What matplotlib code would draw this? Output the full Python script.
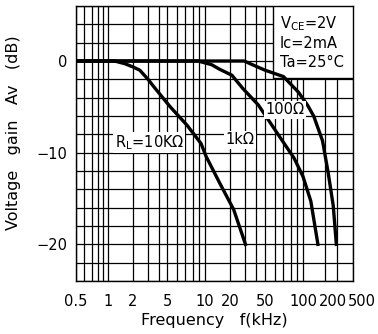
import numpy as np
import matplotlib
matplotlib.use("Agg")
import matplotlib.pyplot as plt
from matplotlib.patches import Rectangle
import matplotlib.transforms as mtrans

plt.rcParams['font.family'] = ['DejaVu Sans']

# ---- data ----
f_10k = [0.5, 1.2, 1.6, 2.0, 2.4, 3.0, 3.5, 5.3, 7.2, 9.3, 10.3, 15, 22, 30]
db_10k = [0, 0, -0.3, -0.65, -1.0, -2.0, -2.8, -5.0, -7.0, -9.0, -10.4, -13.3, -16.2, -20]

f_1k = [0.5, 8.8, 12, 15, 21, 28, 42, 62, 85, 100, 128, 160]
db_1k = [0, 0, -0.4, -0.9, -1.55, -3.0, -4.8, -7.8, -10.6, -12.6, -15.3, -20]

f_100 = [0.5, 29, 40, 50, 70, 92, 115, 140, 185, 222, 262, 290]
db_100 = [0, 0, -0.6, -1.0, -1.7, -3.4, -4.8, -6.0, -8.7, -12.2, -15.8, -20]

x_ticks = [0.5, 1, 2, 5, 10, 20, 50, 100, 200, 500]
x_ticklabels = ["0.5", "1", "2", "5", "10", "20", "50", "100", "200", "500"]
x_minor = [0.6, 0.7, 0.8, 0.9, 3, 4, 6, 7, 8, 9, 30, 40, 60, 70, 80, 90, 300]
y_ticks = [-20, -10, 0]
y_ticklabels = ["\u221220", "\u221210", "0"]
y_minor = list(range(-24, 7, 2))

conditions = ["V$_{\\mathregular{CE}}$=2V", "Ic=2mA", "Ta=25\u00b0C"]

# ---- the chart's (slightly non-logarithmic) frequency axis ----
knot_f = [0.5, 1, 2, 5, 10, 20, 50, 100, 200, 500]
knot_u = [0, 32, 57, 91, 129, 154, 189, 227, 249, 277]
lkf = np.log10(knot_f)

def fwd(x):
    x = np.asarray(x, dtype=float)
    return np.interp(np.log10(np.clip(x, 1e-6, None)), lkf, knot_u)

def inv(u):
    return 10 ** np.interp(np.asarray(u, dtype=float), knot_u, lkf)

fig = plt.figure(figsize=(3.78, 3.34), dpi=100)
ax = fig.add_axes([76/378, 53/334, 277/378, 275/334])
ax.set_xscale('function', functions=(fwd, inv))
ax.set_xlim(0.5, 500)
ax.set_ylim(-24, 6)

ax.set_xticks(x_ticks)
ax.set_xticklabels(x_ticklabels, fontsize=10.5)
ax.set_xticks(x_minor, minor=True)
ax.set_yticks(y_ticks)
ax.set_yticklabels(y_ticklabels, fontsize=10.5)
ax.set_yticks(y_minor, minor=True)
ax.tick_params(which='both', length=0)
ax.tick_params(axis='x', pad=9)
ax.tick_params(axis='y', pad=6)
ax.grid(which='both', color='black', lw=0.9)
for s in ax.spines.values():
    s.set_linewidth(1.0)

# shift the crowded labels at the right end
labs = ax.get_xticklabels()
for lab, dx in zip(labs[-2:], [8, 9]):
    lab.set_transform(lab.get_transform() + mtrans.ScaledTranslation(dx/100, 0, fig.dpi_scale_trans))

lw = 2.4
ax.plot(f_10k, db_10k, color='black', lw=lw, solid_joinstyle='round', zorder=3)
ax.plot(f_1k, db_1k, color='black', lw=lw, solid_joinstyle='round', zorder=3)
ax.plot(f_100, db_100, color='black', lw=lw, solid_joinstyle='round', zorder=3)

bb = dict(boxstyle='square,pad=0.1', fc='white', ec='none')
ax.text(3.1, -8.9, "R$_{\\mathregular{L}}$=10K\u03a9", fontsize=10.5, ha='center', va='center', bbox=bb, zorder=4)
ax.text(26, -8.6, "1k\u03a9", fontsize=10.5, ha='center', va='center', bbox=bb, zorder=4)
ax.text(72, -5.3, "100\u03a9", fontsize=10.5, ha='center', va='center', bbox=bb, zorder=4)

ax.add_patch(Rectangle((0.711, 0.739), 0.289, 0.261, transform=ax.transAxes,
                       fc='white', ec='black', lw=1.0, zorder=2.6))
for i, t in enumerate(conditions):
    ax.text(0.735, 0.935 - i*0.07, t, transform=ax.transAxes, fontsize=10.5,
            ha='left', va='center', zorder=6)

ax.set_xlabel("Frequency   f(kHz)", fontsize=11.5)
ax.xaxis.set_label_coords(0.5, -0.115)
ax.set_ylabel("Voltage   gain   Av   (dB)", fontsize=11.5)
ax.yaxis.set_label_coords(-0.2, 0.54)

fig.savefig("out.png", dpi=100)
